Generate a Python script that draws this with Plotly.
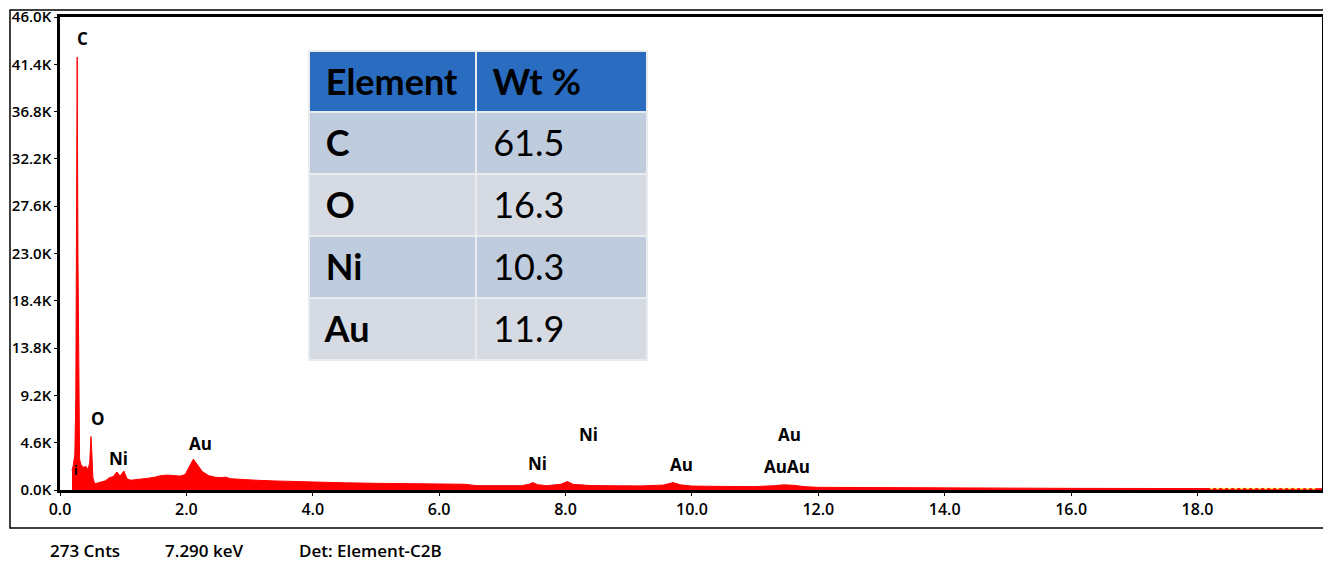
import plotly.graph_objects as go

# ---- spectrum data ----
energy_kev = [0.19, 0.21, 0.235, 0.25, 0.26, 0.272, 0.284, 0.295, 0.31, 0.33, 0.37, 0.41,
              0.44, 0.47, 0.49, 0.505, 0.52, 0.55, 0.60, 0.66, 0.72, 0.78, 0.84, 0.90, 0.95,
              1.01, 1.06, 1.12, 1.2, 1.3, 1.4, 1.5, 1.6, 1.7, 1.8, 1.9, 1.98, 2.05, 2.11,
              2.17, 2.25, 2.35, 2.45, 2.55, 2.62, 2.7, 2.9, 3.1, 3.4, 3.7, 4.0, 4.5, 5.0,
              5.5, 6.0, 6.4, 6.6, 7.0, 7.3, 7.42, 7.48, 7.56, 7.7, 7.92, 8.03, 8.12, 8.4,
              8.8, 9.2, 9.55, 9.7, 9.82, 10.0, 10.5, 11.0, 11.3, 11.45, 11.6, 11.8, 12.0,
              12.5, 13.0, 14.0, 15.0, 16.0, 17.0, 18.0, 19.0, 20.0]
counts = [1900, 2400, 3500, 9000, 24000, 42100, 23000, 7500, 3000, 2500, 2200, 2300,
          2000, 2600, 5200, 3500, 1200, 600, 700, 750, 900, 1200, 1300, 1750, 1350,
          1850, 1100, 950, 1000, 1050, 1150, 1250, 1400, 1450, 1400, 1350, 1500, 2300, 3000,
          2500, 1800, 1400, 1250, 1200, 1250, 1100, 1000, 950, 880, 820, 760, 700, 650,
          610, 580, 560, 420, 400, 420, 550, 720, 520, 420, 550, 820, 550, 430,
          410, 400, 480, 720, 500, 380, 350, 330, 420, 500, 460, 320, 260,
          240, 220, 190, 170, 160, 150, 140, 130, 120]

# faint overlay trace at the high-energy end
overlay_kev = [18.2, 19.0, 19.9]
overlay_counts = [150, 140, 130]

# ---- peak labels ----
label_text = ["C", "O", "Ni", "Au", "Ni", "Ni", "Au", "Au", "AuAu", "i"]
label_kev = [0.36, 0.60, 0.93, 2.23, 7.56, 8.37, 9.83, 11.54, 11.50, 0.26]
label_counts = [43900, 7000, 3100, 4550, 2550, 5350, 2450, 5350, 2250, 1900]

# ---- axes ----
x_tick_vals = [0, 2, 4, 6, 8, 10, 12, 14, 16, 18]
x_tick_text = ["0.0", "2.0", "4.0", "6.0", "8.0", "10.0", "12.0", "14.0", "16.0", "18.0"]
y_tick_vals = [0, 4600, 9200, 13800, 18400, 23000, 27600, 32200, 36800, 41400, 46000]
y_tick_text = ["0.0K", "4.6K", "9.2K", "13.8K", "18.4K", "23.0K", "27.6K", "32.2K",
               "36.8K", "41.4K", "46.0K"]

# ---- composition table ----
table_header = ["Element", "Wt %"]
elements = ["C", "O", "Ni", "Au"]
wt_percent = ["61.5", "16.3", "10.3", "11.9"]

# ---- footer ----
footer_text = ["273 Cnts", "7.290 keV", "Det: Element-C2B"]

# page body has an 8px margin; map reference-pixel positions onto figure paper
OX, OY = 8, 8
W, H = 1323, 553
def px(x):
    return (x - OX) / W
def py(y):
    return 1 - (y - OY) / H

fig = go.Figure()
fig.add_trace(go.Scatter(x=energy_kev, y=counts, mode="lines", fill="tozeroy",
                         line=dict(color="#FF0000", width=1), fillcolor="#FF0000",
                         hoverinfo="skip", showlegend=False))
fig.add_trace(go.Scatter(x=overlay_kev, y=overlay_counts, mode="lines",
                         line=dict(color="#F5E84A", width=1.5, dash="dot"),
                         hoverinfo="skip", showlegend=False))

row_a, row_b = "#BFCCDE", "#D6DBE3"
fig.add_trace(go.Table(
    domain=dict(x=[px(309), px(647)], y=[py(364), py(51)]),
    columnwidth=[167, 171],
    header=dict(values=["<b>&nbsp;" + h + "</b>" for h in table_header],
                fill_color="#2A6CC0", align="left", height=61,
                line=dict(color="#E9ECEF", width=2.5),
                font=dict(family="Lato", size=36, color="black")),
    cells=dict(values=[["<b>&nbsp;" + e + "</b>" for e in elements],
                       ["&nbsp;" + w for w in wt_percent]],
               fill_color=[[row_a, row_b, row_a, row_b]] * 2,
               align="left", height=62,
               line=dict(color="#E9ECEF", width=2.5),
               font=dict(family="Lato", size=36, color="black")),
))

fig.update_layout(
    width=W, height=H, margin=dict(l=0, r=0, t=0, b=0),
    paper_bgcolor="white", plot_bgcolor="white",
    xaxis=dict(domain=[px(60), px(1322)], range=[0, 19.97], tickvals=x_tick_vals,
               ticktext=x_tick_text, ticks="outside", ticklen=3, tickcolor="black",
               showline=True, linecolor="black", linewidth=2.5, mirror=True,
               showgrid=False, zeroline=False, automargin=False,
               ticklabeloverflow="allow",
               tickfont=dict(family="Open Sans", size=16, color="black", weight=600)),
    yaxis=dict(domain=[py(490), py(17)], range=[0, 46000], tickvals=y_tick_vals,
               ticktext=y_tick_text, ticks="outside", ticklen=3, tickcolor="black",
               showline=True, linecolor="black", linewidth=2.5, mirror=True,
               showgrid=False, zeroline=False, automargin=False,
               ticklabeloverflow="allow",
               tickfont=dict(family="Open Sans", size=15, color="black", weight=600)),
    shapes=[dict(type="rect", xref="paper", yref="paper",
                 x0=px(10), x1=px(1328), y0=py(528), y1=py(10),
                 line=dict(color="black", width=1.5), layer="below")],
)

for t, xk, yc in zip(label_text, label_kev, label_counts):
    fig.add_annotation(x=xk, y=yc, text=t, showarrow=False, xref="x", yref="y",
                       font=dict(family="Open Sans", size=17 if t != "i" else 12,
                                 color="black", weight=700))

footer_x = [48, 163, 297]
for t, fx in zip(footer_text, footer_x):
    fig.add_annotation(x=px(fx), y=py(550), text=t, showarrow=False, xref="paper",
                       yref="paper", xanchor="left", yanchor="middle",
                       font=dict(family="Open Sans", size=17, color="black", weight=600))

fig.write_html("out.html")
